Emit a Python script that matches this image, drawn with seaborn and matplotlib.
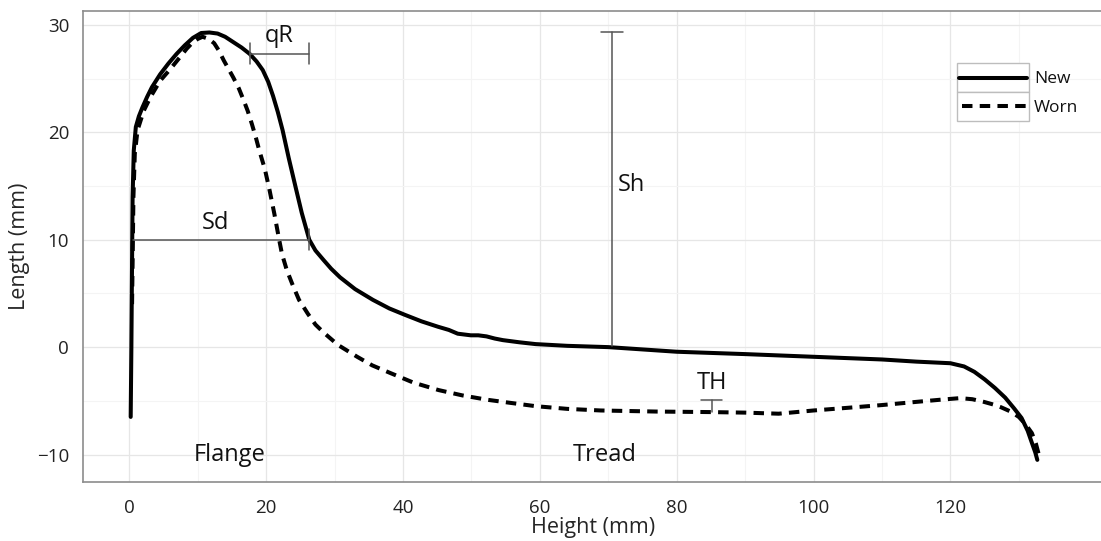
import numpy as np
import pandas as pd
import matplotlib
matplotlib.use("Agg")
import matplotlib.pyplot as plt
import seaborn as sns
from matplotlib.patches import Rectangle

# Profile "New" (solid)
new_x = [0.2, 0.3, 0.4, 0.48, 0.65, 0.95, 1.4, 1.9, 2.6, 3.3, 4.5, 5.7, 6.9, 8.1,
         9.3, 10.5, 11.7, 12.9, 14.0, 15.2, 16.4, 17.6, 18.6, 19.5, 20.3, 21.0,
         21.7, 22.4, 23.3, 24.3, 25.2, 26.3, 27.2, 28.4, 29.5, 30.8, 33.0, 35.6,
         38.0, 40.3, 42.7, 45.1, 46.7, 48.0, 49.9, 51.0, 52.2, 53.4, 54.6, 57.0,
         59.4, 64.0, 70.0, 80.0, 90.0, 100.0, 110.0, 115.0, 120.0, 122.0, 123.5,
         125.0, 126.5, 128.0, 129.3, 130.4, 131.3, 131.9, 132.4, 132.7]
new_y = [-6.5, 0.0, 8.0, 14.0, 18.3, 20.5, 21.5, 22.3, 23.3, 24.2, 25.4, 26.4, 27.3,
         28.1, 28.8, 29.25, 29.3, 29.2, 28.9, 28.4, 27.9, 27.3, 26.6, 25.8, 24.7,
         23.4, 21.9, 20.2, 17.6, 14.9, 12.5, 10.0, 9.0, 8.1, 7.3, 6.5, 5.4, 4.4,
         3.6, 3.0, 2.4, 1.9, 1.6, 1.25, 1.1, 1.1, 1.0, 0.8, 0.65, 0.45,
         0.28, 0.12, 0.0, -0.43, -0.65, -0.9, -1.15, -1.35, -1.5, -1.8, -2.3,
         -3.0, -3.8, -4.7, -5.7, -6.6, -7.8, -8.9, -9.8, -10.5]

# Profile "Worn" (dashed)
worn_x = [0.4, 0.6, 0.8, 1.2, 2.1, 3.1, 4.5, 6.0, 7.4, 8.4, 9.3, 10.0, 10.7, 11.6,
          12.4, 13.1, 13.8, 14.5, 15.2, 16.0, 16.7, 17.3, 17.9, 18.5, 19.0, 19.8,
          20.5, 21.2, 21.9, 22.3, 23.0, 23.8, 24.8, 26.1, 27.2, 28.5, 30.5, 33.3,
          35.5, 38.1, 41.5, 45.2, 48.7, 52.3, 55.8, 59.4, 64.0, 68.9, 77.0, 85.0,
          90.0, 94.9, 100.0, 105.0, 109.9, 115.0, 118.5, 121.4, 123.2, 124.9,
          126.3, 127.4, 128.8, 130.0, 131.0, 131.9, 132.5, 133.0]
worn_y = [4.0, 14.0, 18.0, 20.2, 22.0, 23.3, 24.8, 25.9, 27.0, 27.8, 28.4, 28.7, 28.9,
          28.7, 28.3, 27.6, 26.7, 25.9, 25.1, 24.1, 23.0, 22.0, 20.8, 19.5, 18.3, 16.6,
          14.6, 12.4, 10.0, 8.7, 7.2, 5.9, 4.4, 3.1, 2.1, 1.3, 0.2, -0.9,
          -1.7, -2.4, -3.3, -4.0, -4.5, -4.9, -5.2, -5.5, -5.75, -5.9, -6.0, -6.05,
          -6.1, -6.2, -5.9, -5.65, -5.4, -5.1, -4.9, -4.75, -4.85, -5.1,
          -5.35, -5.6, -6.0, -6.5, -7.2, -8.0, -9.0, -10.2]

df = pd.concat([
    pd.DataFrame({"Height": new_x, "Length": new_y, "Profile": "New"}),
    pd.DataFrame({"Height": worn_x, "Length": worn_y, "Profile": "Worn"}),
], ignore_index=True)

sns.set_style("whitegrid")
plt.rcParams["font.family"] = ["Open Sans", "DejaVu Sans"]

W, H = 1101, 541
fig = plt.figure(figsize=(W / 100, H / 100), dpi=100)
ax = fig.add_axes([83 / W, 1 - 482 / H, (1103 - 83) / W, (482 - 11) / H])

sns.lineplot(data=df, x="Height", y="Length", style="Profile", sort=False,
             estimator=None, color="black", linewidth=2.9,
             dashes={"New": "", "Worn": (2.6, 1.8)}, ax=ax, legend=False)

ax.set_xlim(-6.77, 142.3)
ax.set_ylim(-12.56, 31.3)
ax.set_xticks([0, 20, 40, 60, 80, 100, 120])
ax.set_yticks([-10, 0, 10, 20, 30])
ax.set_yticklabels(["\u221210", "0", "10", "20", "30"])
ax.set_xticks(np.arange(10, 140, 20), minor=True)
ax.set_yticks([-5, 5, 15, 25], minor=True)
ax.grid(which="major", color="#E6E6E6", linewidth=0.9)
ax.grid(which="minor", color="#F4F4F4", linewidth=0.8)
ax.set_axisbelow(True)
for s in ax.spines.values():
    s.set_color("#8C8C8C")
    s.set_linewidth(1.2)
ax.tick_params(which="major", length=6, width=1.2, color="#555555",
               labelsize=13.5, labelcolor="#222222", pad=4)
ax.tick_params(axis="x", which="major", pad=6)
ax.tick_params(which="minor", length=0)
ax.set_xlabel("Height (mm)", fontsize=15.5, labelpad=0)
ax.set_ylabel("Length (mm)", fontsize=15.5, labelpad=5)

# measurement annotations
ann = dict(color="#555555", linewidth=1.1)
ax.plot([17.6, 26.3], [27.3, 27.3], **ann)
for xv in [17.6, 26.3]:
    ax.plot([xv, xv], [26.4, 28.3], **ann)
ax.plot([0.5, 26.3], [10, 10], **ann)
ax.plot([26.3, 26.3], [9.0, 11.0], **ann)
ax.plot([70.5, 70.5], [0.1, 29.3], **ann)
ax.plot([68.9, 72.1], [29.3, 29.3], **ann)
ax.plot([85.1, 85.1], [-6.0, -4.9], **ann)
ax.plot([83.6, 86.6], [-4.9, -4.9], **ann)

txt = dict(fontsize=17, ha="center", va="center", color="#111111")
ax.text(21.9, 29.0, "qR", **txt)
ax.text(12.6, 11.6, "Sd", **txt)
ax.text(73.4, 15.1, "Sh", **txt)
ax.text(85.1, -3.3, "TH", **txt)
ax.text(14.6, -10.0, "Flange", **txt)
ax.text(69.5, -10.0, "Tread", **txt)

# legend with ggplot-style key boxes
for top in [63, 92]:
    fig.patches.append(Rectangle((957 / W, 1 - (top + 29) / H), 72 / W, 29 / H,
                                 transform=fig.transFigure, facecolor="white",
                                 edgecolor="#BDBDBD", linewidth=1.0, zorder=5))
fig.lines.append(plt.Line2D([959 / W, 1027 / W], [1 - 77.5 / H] * 2,
                            transform=fig.transFigure, color="black",
                            linewidth=2.9, zorder=6))
fig.lines.append(plt.Line2D([962 / W, 1027 / W], [1 - 106.5 / H] * 2,
                            transform=fig.transFigure, color="black",
                            linewidth=2.9, dashes=(2.6, 1.8), zorder=6))
fig.text(1034 / W, 1 - 79 / H, "New", fontsize=12.5, va="center", color="#111111")
fig.text(1034 / W, 1 - 108 / H, "Worn", fontsize=12.5, va="center", color="#111111")

fig.savefig("out.png", dpi=100)
